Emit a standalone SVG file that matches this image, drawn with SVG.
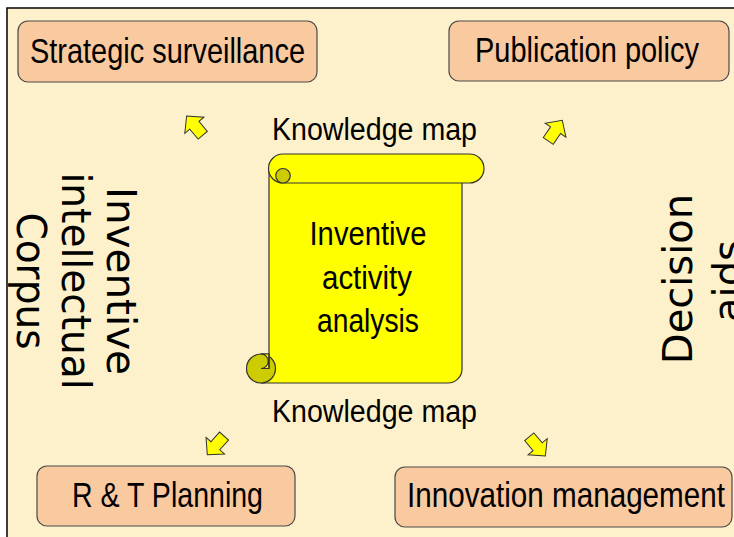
<svg xmlns="http://www.w3.org/2000/svg" width="734" height="537" viewBox="0 0 734 537">
<defs>
<style>
.box{fill:#F9C9A0;stroke:#4a4a4a;stroke-width:1.2}
.bt{font-family:"Liberation Sans Narrow","Liberation Sans",Arial,sans-serif;font-size:35px;fill:#000}
.km{font-family:"Liberation Sans Narrow","Liberation Sans",Arial,sans-serif;font-size:31px;fill:#000}
.ct{font-family:"Liberation Sans Narrow","Liberation Sans",Arial,sans-serif;font-size:33px;fill:#000;text-anchor:middle}
.vt{font-family:"DejaVu Sans",Verdana,sans-serif;font-size:40px;fill:#000;text-anchor:middle}
.arr{fill:#FFFF00;stroke:#333;stroke-width:1;stroke-linejoin:miter}
.scr{fill:#FFFF00;stroke:#333;stroke-width:1.2}
.dk{fill:#CCCC00;stroke:#333;stroke-width:1.2}
</style>
<path id="ar" d="M-12,-6 L1,-6 L1,-12.5 L13,0 L1,12.5 L1,6 L-12,6 Z"/>
</defs>
<rect x="0" y="0" width="734" height="537" fill="#ffffff"/>
<rect x="7" y="8" width="740" height="540" fill="#FDF1CB" stroke="#000" stroke-width="1.5"/>

<g id="connectors">
<use href="#ar" class="arr" transform="translate(195,126) rotate(-130)"/>
<use href="#ar" class="arr" transform="translate(555,131) rotate(-56)"/>
<use href="#ar" class="arr" transform="translate(216,445) rotate(132)"/>
<use href="#ar" class="arr" transform="translate(537,446) rotate(50)"/>
</g>

<g id="strategic">
<rect class="box" x="18" y="21" width="299" height="61" rx="10"/>
<text class="bt" x="30" y="63" textLength="275" lengthAdjust="spacingAndGlyphs">Strategic surveillance</text>
</g>
<g id="publication">
<rect class="box" x="449" y="21" width="280" height="60" rx="10"/>
<text class="bt" x="475" y="62" textLength="224" lengthAdjust="spacingAndGlyphs">Publication policy</text>
</g>
<g id="rt">
<rect class="box" x="37" y="466" width="258" height="60" rx="10"/>
<text class="bt" x="72" y="507" textLength="191" lengthAdjust="spacingAndGlyphs">R &amp; T Planning</text>
</g>
<g id="innovation">
<rect class="box" x="395" y="467" width="337" height="60" rx="10"/>
<text class="bt" x="407" y="507" textLength="318" lengthAdjust="spacingAndGlyphs">Innovation management</text>
</g>

<g id="km-top">
<text class="km" x="272" y="140" textLength="205" lengthAdjust="spacingAndGlyphs">Knowledge map</text>
</g>
<g id="km-bottom">
<text class="km" x="272" y="422" textLength="205" lengthAdjust="spacingAndGlyphs">Knowledge map</text>
</g>

<g id="scroll">
<path class="scr" d="M269,168 L462,168 L462,369 A14,14 0 0 1 448,383 L261,383 L261,354 L269,354 Z"/>
<rect class="scr" x="268.5" y="154" width="215.5" height="29" rx="14.5"/>
<circle class="dk" cx="283" cy="175.75" r="7.25"/>
<circle class="dk" cx="261" cy="368.5" r="14.5"/>
<path class="scr" d="M261,354 A7.25,7.25 0 0 1 261,368.5 L269,368.5 L269,354 Z"/>
<line x1="269" y1="354" x2="269" y2="368.5" stroke="#333" stroke-width="1.2"/>
<text class="ct" x="368" y="245" textLength="117" lengthAdjust="spacingAndGlyphs">Inventive</text>
<text class="ct" x="367" y="289" textLength="90" lengthAdjust="spacingAndGlyphs">activity</text>
<text class="ct" x="368" y="332" textLength="102" lengthAdjust="spacingAndGlyphs">analysis</text>
</g>

<g id="corpus">
<text class="vt" transform="translate(107,281) rotate(90)" textLength="188" lengthAdjust="spacingAndGlyphs">Inventive</text>
<text class="vt" transform="translate(62,281) rotate(90)" textLength="217" lengthAdjust="spacingAndGlyphs">intellectual</text>
<text class="vt" transform="translate(17,281) rotate(90)" textLength="137" lengthAdjust="spacingAndGlyphs">Corpus</text>
</g>
<g id="decision">
<text class="vt" transform="translate(692,279) rotate(-90)">Decision</text>
<text class="vt" transform="translate(742,281) rotate(-90)">aids</text>
</g>
</svg>
